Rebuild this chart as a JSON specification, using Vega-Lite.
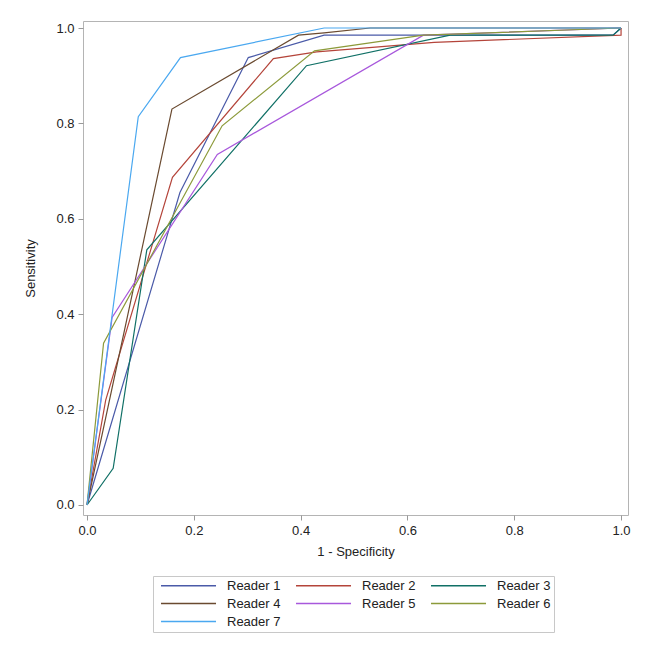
{
  "$schema": "https://vega.github.io/schema/vega-lite/v6.json",
  "width": 545,
  "height": 494,
  "autosize": {"type": "none"},
  "padding": {"left": 83, "top": 21, "right": 24, "bottom": 137},
  "background": "white",
  "config": {
    "font": "Liberation Sans",
    "view": {"stroke": "#b4b4b4", "strokeWidth": 1},
    "axis": {
      "labelFont": "Liberation Sans",
      "titleFont": "Liberation Sans",
      "labelFontSize": 13,
      "titleFontSize": 13,
      "titleFontWeight": "normal",
      "labelColor": "#222",
      "titleColor": "#222",
      "tickColor": "#999",
      "tickSize": 5,
      "domain": false,
      "grid": false
    }
  },
  "data": {
    "values": [
      {"reader": "Reader 1", "i": 0, "fpr": 0, "tpr": 0},
      {"reader": "Reader 1", "i": 1, "fpr": 0.174, "tpr": 0.655},
      {"reader": "Reader 1", "i": 2, "fpr": 0.302, "tpr": 0.938},
      {"reader": "Reader 1", "i": 3, "fpr": 0.444, "tpr": 0.985},
      {"reader": "Reader 1", "i": 4, "fpr": 0.985, "tpr": 0.985},
      {"reader": "Reader 1", "i": 5, "fpr": 1, "tpr": 1},
      {"reader": "Reader 2", "i": 0, "fpr": 0, "tpr": 0},
      {"reader": "Reader 2", "i": 1, "fpr": 0.035, "tpr": 0.22},
      {"reader": "Reader 2", "i": 2, "fpr": 0.16, "tpr": 0.687},
      {"reader": "Reader 2", "i": 3, "fpr": 0.349, "tpr": 0.936},
      {"reader": "Reader 2", "i": 4, "fpr": 0.43, "tpr": 0.95},
      {"reader": "Reader 2", "i": 5, "fpr": 0.65, "tpr": 0.97},
      {"reader": "Reader 2", "i": 6, "fpr": 1, "tpr": 0.985},
      {"reader": "Reader 2", "i": 7, "fpr": 1, "tpr": 1},
      {"reader": "Reader 3", "i": 0, "fpr": 0, "tpr": 0},
      {"reader": "Reader 3", "i": 1, "fpr": 0.049, "tpr": 0.077},
      {"reader": "Reader 3", "i": 2, "fpr": 0.112, "tpr": 0.535},
      {"reader": "Reader 3", "i": 3, "fpr": 0.411, "tpr": 0.921},
      {"reader": "Reader 3", "i": 4, "fpr": 0.68, "tpr": 0.985},
      {"reader": "Reader 3", "i": 5, "fpr": 0.985, "tpr": 0.985},
      {"reader": "Reader 3", "i": 6, "fpr": 1, "tpr": 1},
      {"reader": "Reader 4", "i": 0, "fpr": 0, "tpr": 0},
      {"reader": "Reader 4", "i": 1, "fpr": 0.159, "tpr": 0.83},
      {"reader": "Reader 4", "i": 2, "fpr": 0.396, "tpr": 0.985},
      {"reader": "Reader 4", "i": 3, "fpr": 0.444, "tpr": 0.99},
      {"reader": "Reader 4", "i": 4, "fpr": 0.53, "tpr": 1},
      {"reader": "Reader 4", "i": 5, "fpr": 1, "tpr": 1},
      {"reader": "Reader 5", "i": 0, "fpr": 0, "tpr": 0},
      {"reader": "Reader 5", "i": 1, "fpr": 0.047, "tpr": 0.393},
      {"reader": "Reader 5", "i": 2, "fpr": 0.244, "tpr": 0.735},
      {"reader": "Reader 5", "i": 3, "fpr": 0.63, "tpr": 0.985},
      {"reader": "Reader 5", "i": 4, "fpr": 1, "tpr": 1},
      {"reader": "Reader 6", "i": 0, "fpr": 0, "tpr": 0},
      {"reader": "Reader 6", "i": 1, "fpr": 0.031, "tpr": 0.339},
      {"reader": "Reader 6", "i": 2, "fpr": 0.253, "tpr": 0.795},
      {"reader": "Reader 6", "i": 3, "fpr": 0.426, "tpr": 0.952},
      {"reader": "Reader 6", "i": 4, "fpr": 0.63, "tpr": 0.985},
      {"reader": "Reader 6", "i": 5, "fpr": 1, "tpr": 1},
      {"reader": "Reader 7", "i": 0, "fpr": 0, "tpr": 0},
      {"reader": "Reader 7", "i": 1, "fpr": 0.096, "tpr": 0.814},
      {"reader": "Reader 7", "i": 2, "fpr": 0.175, "tpr": 0.938},
      {"reader": "Reader 7", "i": 3, "fpr": 0.444, "tpr": 1},
      {"reader": "Reader 7", "i": 4, "fpr": 1, "tpr": 1}
    ]
  },
  "mark": {"type": "line", "strokeWidth": 1.2, "clip": false},
  "encoding": {
    "x": {
      "field": "fpr",
      "type": "quantitative",
      "title": "1 - Specificity",
      "scale": {"domain": [-0.0075, 1.013], "nice": false, "zero": false},
      "axis": {"values": [0, 0.2, 0.4, 0.6, 0.8, 1.0], "format": ".1f", "labelPadding": 4, "titlePadding": 8, "labelFlush": false}
    },
    "y": {
      "field": "tpr",
      "type": "quantitative",
      "title": "Sensitivity",
      "scale": {"domain": [-0.021, 1.0147], "nice": false, "zero": false},
      "axis": {"values": [0, 0.2, 0.4, 0.6, 0.8, 1.0], "format": ".1f", "labelPadding": 4, "titlePadding": 18, "labelFlush": false}
    },
    "color": {
      "field": "reader",
      "type": "nominal",
      "title": null,
      "scale": {
        "domain": ["Reader 1", "Reader 2", "Reader 3", "Reader 4", "Reader 5", "Reader 6", "Reader 7"],
        "range": ["#4a5aa8", "#b4443a", "#107066", "#6a4a30", "#a858dc", "#8c9a3a", "#4aa8f0"]
      },
      "legend": {
        "orient": "none",
        "legendX": 70,
        "legendY": 555,
        "direction": "horizontal",
        "columns": 3,
        "symbolType": "M-0.27,0H9.73",
        "symbolSize": 121,
        "symbolStrokeWidth": 1.5,
        "labelFont": "Liberation Sans",
        "labelFontSize": 13,
        "labelColor": "#222",
        "labelOffset": 58,
        "columnPadding": 10,
        "rowPadding": 4,
        "padding": 3,
        "strokeColor": "#c8c8c8"
      }
    },
    "order": {"field": "i", "type": "quantitative"}
  }
}
